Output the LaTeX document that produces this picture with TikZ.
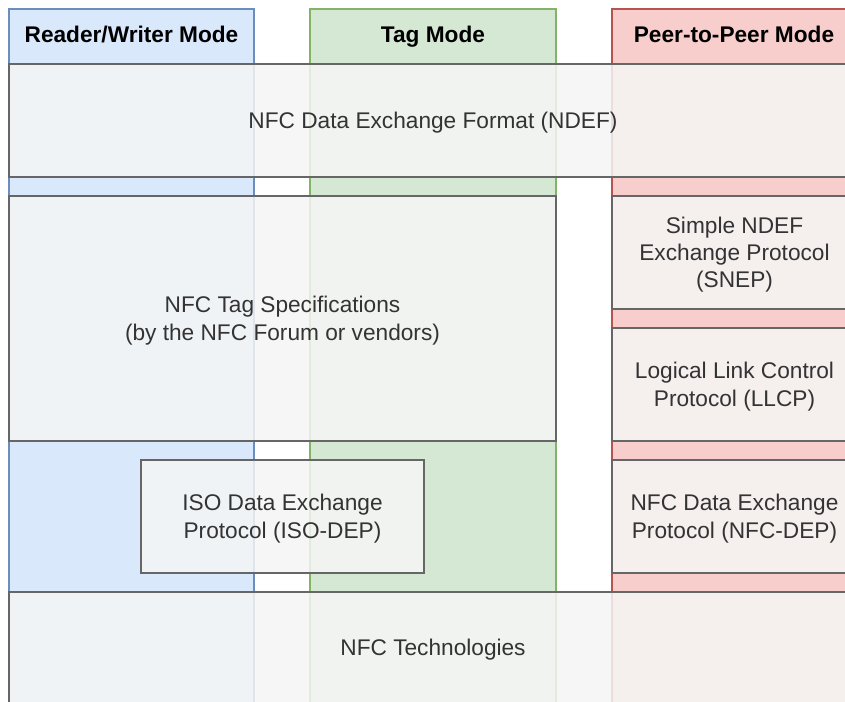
\documentclass[tikz,border=0pt]{standalone}
\usepackage{fontspec}
\setmainfont{Liberation Sans}

\definecolor{rwfill}{HTML}{DAE8FC}
\definecolor{rwline}{HTML}{6C8EBF}
\definecolor{tagfill}{HTML}{D5E8D4}
\definecolor{tagline}{HTML}{82B366}
\definecolor{ppfill}{HTML}{F8CECC}
\definecolor{ppline}{HTML}{B85450}
\definecolor{layerfill}{HTML}{F5F5F5}
\definecolor{layerline}{HTML}{666666}
\definecolor{labelgray}{HTML}{333333}

\begin{document}
\begin{tikzpicture}[x=0.75pt, y=-0.75pt, line width=1pt,
  layer/.style={draw=layerline, fill=layerfill, fill opacity=0.85},
  lbl/.style={text=labelgray, align=center, yshift=-1.5pt, font=\fontsize{17}{20.5}\selectfont},
  head/.style={text height=12pt, text depth=3.5pt, yshift=-1.5pt, font=\bfseries\fontsize{17}{20.3}\selectfont}]
  \useasboundingbox (0,0) rectangle (845,702);
  \clip (0,0) rectangle (845,702);

  % colonnes (modes)
  \filldraw[draw=rwline, fill=rwfill] (9,9) rectangle (254,706);
  \filldraw[draw=tagline, fill=tagfill] (310,9) rectangle (556,706);
  \filldraw[draw=ppline, fill=ppfill] (612,9) rectangle (858,706);
  \node[head] (rw) at (131.5,34.5) {Reader/Writer Mode};
  \node[head] (tag) at (433,34.5) {Tag Mode};
  \node[head] (pp) at (734,34.5) {Peer-to-Peer Mode};

  % NDEF
  \draw[layer] (9,64) rectangle (858,177);
  \node[lbl] (ndef) at (433,120.5) {NFC Data Exchange Format (NDEF)};

  % tag specs
  \draw[layer] (9,196) rectangle (556,441);
  \node[lbl] (tagspec) at (282.5,318.5) {NFC Tag Specifications\\(by the NFC Forum or vendors)};

  % pile peer-to-peer
  \draw[layer] (612,196) rectangle (858,309);
  \node[lbl] (snep) at (734.5,252.5) {Simple NDEF\\Exchange Protocol\\(SNEP)};
  \draw[layer] (612,328) rectangle (858,441);
  \node[lbl] (llcp) at (734.5,384.5) {Logical Link Control\\Protocol (LLCP)};
  \draw[layer] (612,460) rectangle (858,573);
  \node[lbl] (nfcdep) at (734.5,516.5) {NFC Data Exchange\\Protocol (NFC-DEP)};

  % ISO-DEP
  \draw[layer] (141,460) rectangle (424,573);
  \node[lbl] (isodep) at (282.5,516.5) {ISO Data Exchange\\Protocol (ISO-DEP)};

  % technologies
  \draw[layer] (9,592) rectangle (858,706);
  \node[lbl] (tech) at (433,648) {NFC Technologies};

\end{tikzpicture}
\end{document}
